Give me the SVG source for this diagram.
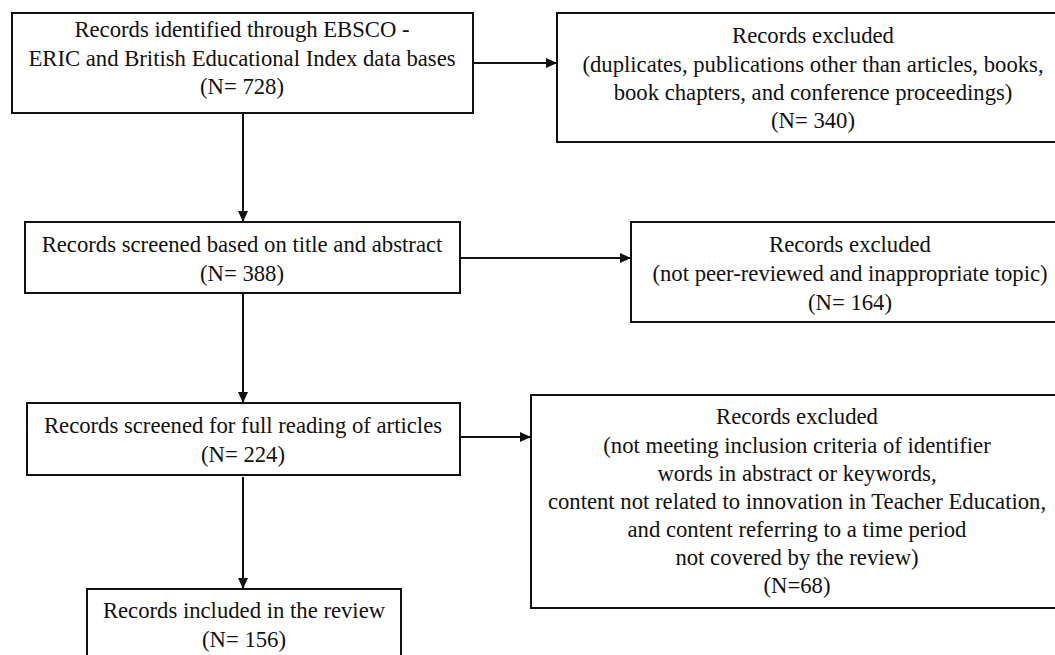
<svg xmlns="http://www.w3.org/2000/svg" width="1055" height="655" viewBox="0 0 1055 655">
<style>
  .box { fill: #fff; stroke: #111; stroke-width: 2; }
  .t { font-family: "Liberation Serif", "Times New Roman", serif; font-size: 22.7px; fill: #111; text-anchor: middle; }
  .conn { stroke: #111; stroke-width: 2; fill: none; marker-end: url(#arr); }
</style>
<defs>
  <marker id="arr" markerUnits="userSpaceOnUse" markerWidth="12" markerHeight="10" refX="11" refY="5" orient="auto">
    <path d="M0,0 L11,5 L0,10 z" fill="#111"/>
  </marker>
</defs>
<rect width="1055" height="655" fill="#fff"/>
<g id="connectors">
  <line class="conn" x1="243" y1="113" x2="243" y2="222"/>
  <line class="conn" x1="473" y1="63" x2="557" y2="63"/>
  <line class="conn" x1="460" y1="258" x2="631" y2="258"/>
  <line class="conn" x1="243" y1="293" x2="243" y2="403"/>
  <line class="conn" x1="460" y1="437" x2="531" y2="437"/>
  <line class="conn" x1="243" y1="477" x2="243" y2="589"/>
</g>
<g id="identified">
  <rect class="box" x="12" y="13" width="461" height="100"/>
  <text class="t" x="242" y="37">Records identified  through EBSCO -</text>
  <text class="t" x="242" y="66">ERIC and British Educational  Index data bases</text>
  <text class="t" x="242" y="94">(N= 728)</text>
</g>
<g id="excluded1">
  <rect class="box" x="557" y="13" width="512" height="129"/>
  <text class="t" x="813" y="43">Records excluded</text>
  <text class="t" x="813" y="72">(duplicates, publications other than articles, books,</text>
  <text class="t" x="813" y="100">book chapters, and conference proceedings)</text>
  <text class="t" x="813" y="128">(N= 340)</text>
</g>
<g id="screened">
  <rect class="box" x="25" y="222" width="435" height="71"/>
  <text class="t" x="242" y="252">Records screened based on title and abstract</text>
  <text class="t" x="242" y="281">(N= 388)</text>
</g>
<g id="excluded2">
  <rect class="box" x="631" y="222" width="438" height="100"/>
  <text class="t" x="850" y="252">Records excluded</text>
  <text class="t" x="850" y="281">(not peer-reviewed and inappropriate topic)</text>
  <text class="t" x="850" y="310">(N= 164)</text>
</g>
<g id="fullreading">
  <rect class="box" x="27" y="403" width="433" height="72"/>
  <text class="t" x="243" y="433">Records screened for full reading of articles</text>
  <text class="t" x="243" y="462">(N= 224)</text>
</g>
<g id="excluded3">
  <rect class="box" x="531" y="395" width="532" height="213"/>
  <text class="t" x="797" y="424">Records excluded</text>
  <text class="t" x="797" y="453">(not meeting inclusion criteria  of identifier</text>
  <text class="t" x="797" y="481">words in abstract or keywords,</text>
  <text class="t" x="797" y="509">content not related  to innovation in Teacher Education,</text>
  <text class="t" x="797" y="537">and content referring  to a time period</text>
  <text class="t" x="797" y="565">not covered by the review)</text>
  <text class="t" x="797" y="593">(N=68)</text>
</g>
<g id="included">
  <rect class="box" x="87" y="589" width="314" height="75"/>
  <text class="t" x="244" y="618">Records included in the review</text>
  <text class="t" x="244" y="647">(N= 156)</text>
</g>
</svg>
